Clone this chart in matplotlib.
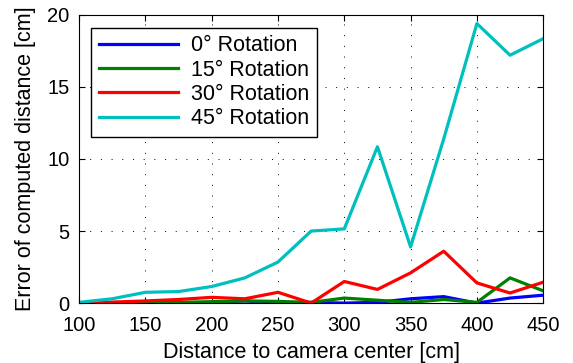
import matplotlib
matplotlib.use('Agg')
import matplotlib.pyplot as plt

plt.rcParams['font.family'] = ['Liberation Sans', 'DejaVu Sans']

# 采样距离
distance = [100, 125, 150, 175, 200, 225, 250, 275, 300, 325, 350, 375, 400, 425, 450]

# 各旋转角度下的误差
err_0 = [0, 0, 0, 0, 0.05, 0.15, 0.0, 0.05, 0.0, 0.05, 0.3, 0.45, 0.0, 0.35, 0.55]
err_15 = [0, 0, 0.02, 0.05, 0.1, 0.15, 0.12, 0.05, 0.35, 0.2, 0.05, 0.25, 0.05, 1.75, 0.85]
err_30 = [0, 0.07, 0.15, 0.25, 0.4, 0.3, 0.75, 0.0, 1.5, 0.95, 2.1, 3.6, 1.4, 0.7, 1.45]
err_45 = [0.05, 0.3, 0.75, 0.8, 1.15, 1.75, 2.85, 5.0, 5.15, 10.85, 3.9, 11.4, 19.4, 17.2, 18.35]

labels = ['0° Rotation', '15° Rotation', '30° Rotation', '45° Rotation']
colors = ['#0000ff', '#008000', '#ff0000', '#00bfbf']

fig = plt.figure(figsize=(5.73, 3.63), dpi=100)
ax = fig.add_axes([0.138, 0.165, 0.81, 0.794])

for ys, lab, c in zip([err_0, err_15, err_30, err_45], labels, colors):
    ax.plot(distance, ys, color=c, linewidth=2.3, label=lab)

ax.set_xlim(100, 450)
ax.set_ylim(0, 20)
ax.set_xticks(range(100, 451, 50))
ax.set_yticks(range(0, 21, 5))
ax.grid(True, color='black', linestyle=(0, (1, 10)), linewidth=0.7)
ax.tick_params(direction='in', top=True, right=True, labelsize=14.5, length=4)
ax.tick_params(axis='x', pad=9)
ax.tick_params(axis='y', pad=7)
for s in ax.spines.values():
    s.set_linewidth(0.8)

ax.set_xlabel('Distance to camera center [cm]', fontsize=15.5, labelpad=5.5)
ax.set_ylabel('Error of computed distance [cm]', fontsize=15.5, labelpad=8)

leg = ax.legend(loc='upper left', bbox_to_anchor=(0.026, 0.955), borderaxespad=0,
                fontsize=15.5, fancybox=False, framealpha=1, edgecolor='black',
                handlelength=3.7, handletextpad=0.6, labelspacing=0.15, borderpad=0.35)
leg.get_frame().set_linewidth(1.0)

plt.savefig('out.png', dpi=100)
